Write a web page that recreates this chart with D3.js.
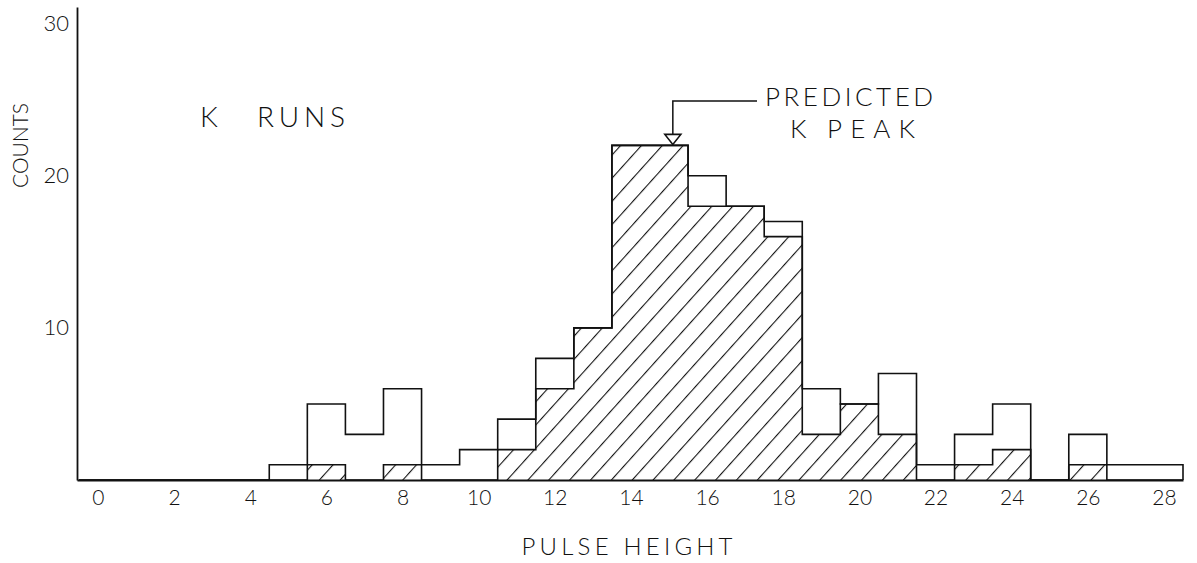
<!DOCTYPE html>
<html>
<head>
<meta charset="utf-8">
<script src="https://cdn.jsdelivr.net/npm/d3@7"></script>
<style>
  body { margin: 0; background: #fff; }
  svg text { font-family: Lato, "Noto Sans", "DejaVu Sans", sans-serif; font-weight: 300; fill: #111; }
</style>
</head>
<body>
<svg width="1197" height="563"></svg>
<script>
const svg = d3.select("svg");

// pulse height bins (centred on integers)
const bins = d3.range(0, 29);
const allCounts = [0,0,0,0,0,1,5,3,6,1,2,4,8,10,22,22,20,18,17,6,5,7,1,3,5,0,3,1,1];
const kCounts   = [0,0,0,0,0,0,1,0,1,0,0,2,6,10,22,22,18,18,16,3,5,3,0,1,2,0,1,0,0];
const xTicks = d3.range(0, 29, 2);
const yTicks = [10, 20, 30];
const predictedPeak = 15.1;

const x = d3.scaleLinear().domain([-0.55, 28.5]).range([77, 1183]);
const y = d3.scaleLinear().domain([0, 31.1]).range([480, 7]);

// hatch pattern
const defs = svg.append("defs");
defs.append("pattern")
  .attr("id", "hatch")
  .attr("patternUnits", "userSpaceOnUse")
  .attr("width", 15.5).attr("height", 15.5)
  .attr("patternTransform", "rotate(42)")
  .append("line")
  .attr("x1", 0).attr("y1", 0).attr("x2", 0).attr("y2", 15.5)
  .attr("stroke", "#111").attr("stroke-width", 2.2);

// step points for each series
const steps = counts => {
  const pts = [[bins[0] - 0.5, 0]];
  bins.forEach((b, i) => { pts.push([b - 0.5, counts[i]], [b + 0.5, counts[i]]); });
  pts.push([bins[bins.length - 1] + 0.5, 0]);
  return pts;
};

const area = d3.area().x(d => x(d[0])).y0(y(0)).y1(d => y(d[1]));
const line = d3.line().x(d => x(d[0])).y(d => y(d[1]));

svg.append("path")
  .attr("d", area(steps(kCounts)))
  .attr("fill", "url(#hatch)");

svg.append("path")
  .attr("d", line(steps(kCounts)))
  .attr("fill", "none").attr("stroke", "#111").attr("stroke-width", 1.6);

svg.append("path")
  .attr("d", line(steps(allCounts)))
  .attr("fill", "none").attr("stroke", "#111").attr("stroke-width", 1.6);

// axes
const xAxis = svg.append("g")
  .attr("transform", `translate(0,${y(0)})`)
  .call(d3.axisBottom(x).tickValues(xTicks).tickSize(0).tickPadding(10));
xAxis.select(".domain").attr("stroke", "#111").attr("stroke-width", 1.8);
xAxis.selectAll("text").attr("font-size", 21).style("font-family", null);

const yAxis = svg.append("g")
  .attr("transform", `translate(${x.range()[0]},0)`)
  .call(d3.axisLeft(y).tickValues(yTicks).tickSize(0).tickPadding(8));
yAxis.select(".domain").attr("stroke", "#111").attr("stroke-width", 1.8);
yAxis.selectAll("text").attr("font-size", 22).style("font-family", null);

// axis titles
svg.append("text")
  .attr("x", 627).attr("y", 555)
  .attr("text-anchor", "middle")
  .attr("font-size", 24)
  .attr("textLength", 211).attr("lengthAdjust", "spacing")
  .text("PULSE HEIGHT");

svg.append("text")
  .attr("transform", "translate(28,188) rotate(-90)")
  .attr("font-size", 21)
  .attr("textLength", 85).attr("lengthAdjust", "spacing")
  .text("COUNTS");

// labels
const kr = svg.append("text").attr("y", 127).attr("font-size", 28);
kr.append("tspan").attr("x", 200).text("K");
kr.append("tspan").attr("x", 257).attr("textLength", 88).attr("lengthAdjust", "spacing").text("RUNS");

svg.append("text")
  .attr("x", 765).attr("y", 106)
  .attr("font-size", 26)
  .attr("textLength", 168).attr("lengthAdjust", "spacing")
  .text("PREDICTED");

const kp = svg.append("text").attr("y", 138).attr("font-size", 26);
kp.append("tspan").attr("x", 790).text("K");
kp.append("tspan").attr("x", 827).attr("textLength", 88).attr("lengthAdjust", "spacing").text("PEAK");

// arrow to predicted peak
const px = x(predictedPeak), tipY = y(22);
svg.append("path")
  .attr("d", `M${px},${tipY - 11}V101H757`)
  .attr("fill", "none").attr("stroke", "#111").attr("stroke-width", 1.5);
svg.append("path")
  .attr("d", `M${px - 8},${tipY - 11}H${px + 8}L${px},${tipY - 1}Z`)
  .attr("fill", "#fff").attr("stroke", "#111").attr("stroke-width", 1.6);
</script>
</body>
</html>
